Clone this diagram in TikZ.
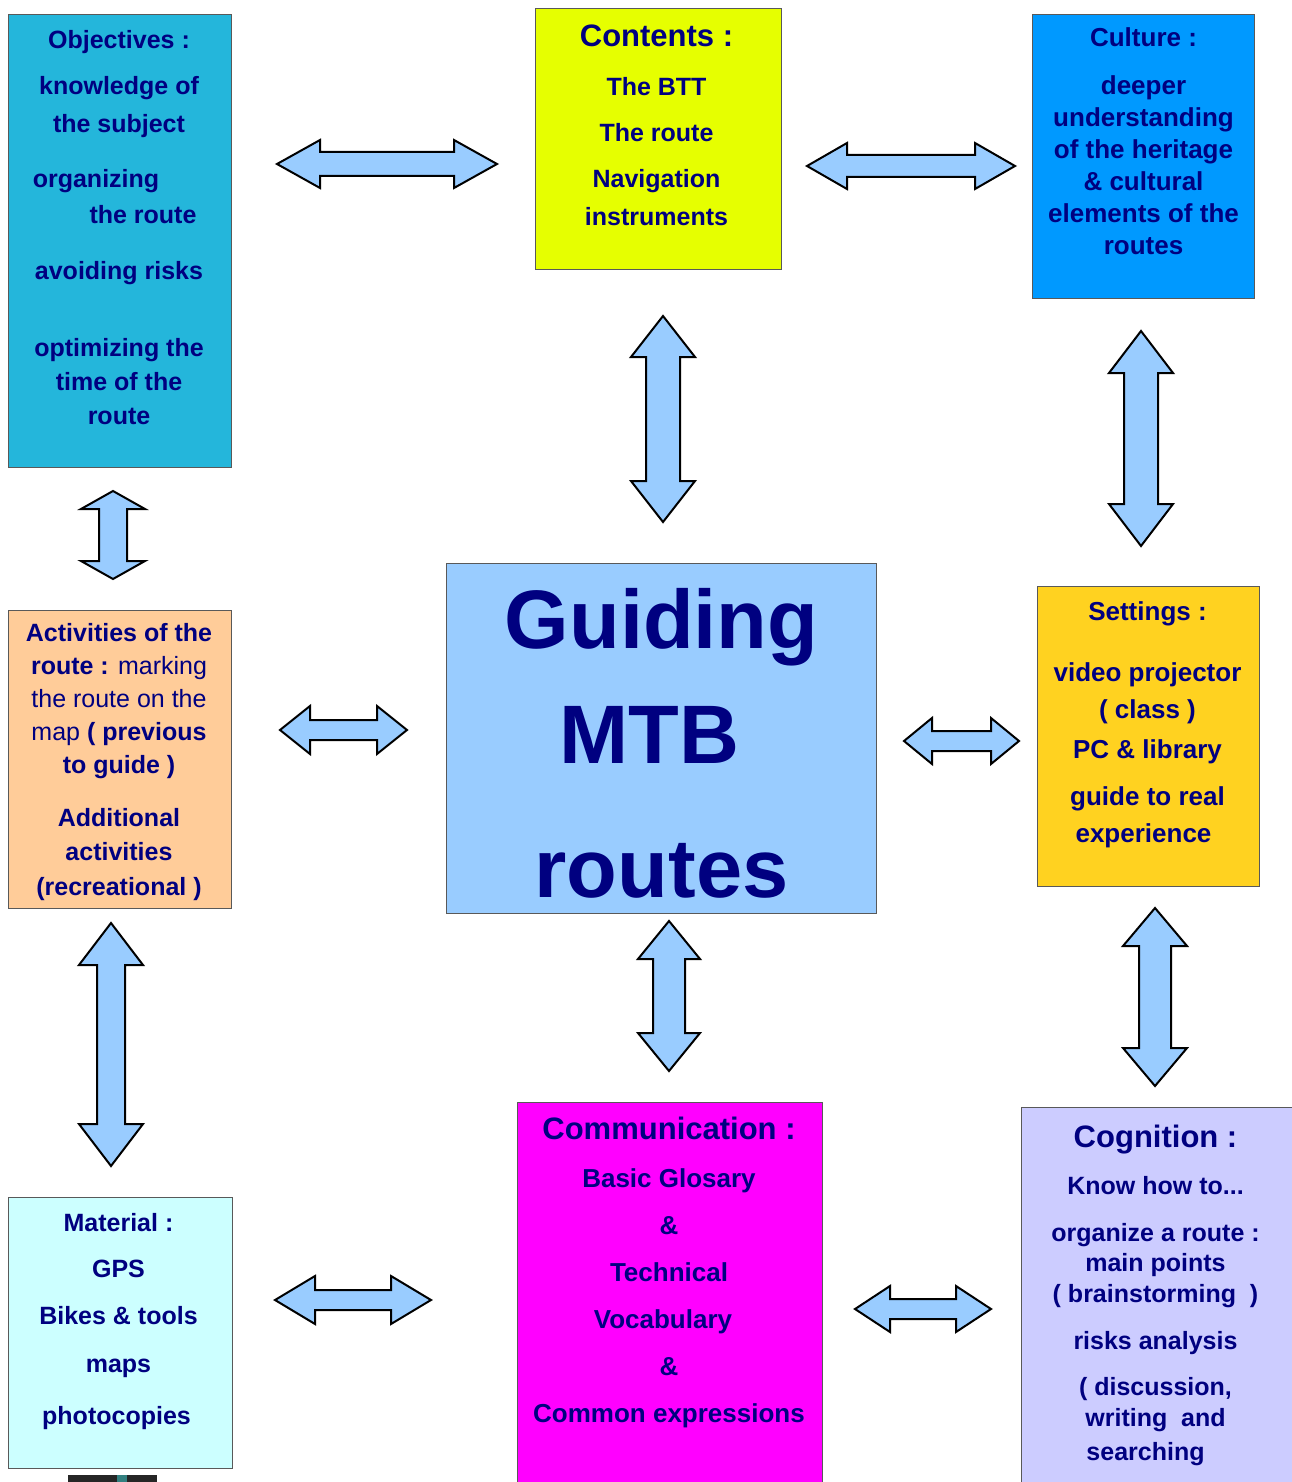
\documentclass[tikz,border=0pt]{standalone}
\usepackage{fontspec}
\setmainfont{Liberation Sans}
\usepackage{tikz}
\usetikzlibrary{calc,positioning}
\definecolor{navy}{RGB}{0,0,128}
\definecolor{objblue}{RGB}{36,182,219}
\definecolor{conyellow}{RGB}{230,255,0}
\definecolor{culblue}{RGB}{0,153,255}
\definecolor{actorange}{RGB}{255,204,153}
\definecolor{cenblue}{RGB}{153,204,255}
\definecolor{setyellow}{RGB}{255,210,32}
\definecolor{matcyan}{RGB}{204,255,255}
\definecolor{commagenta}{RGB}{255,0,255}
\definecolor{coglilac}{RGB}{204,204,255}
\definecolor{arrowblue}{RGB}{153,204,255}

\begin{document}
\begin{tikzpicture}[x=1pt,y=-1pt]
\tikzstyle{box}=[rectangle, draw=black!65, line width=1pt, anchor=north west, inner sep=0pt]
\tikzstyle{txt}=[anchor=base, align=center, inner sep=0pt, text=navy]
\tikzstyle{arw}=[draw=black, line width=2pt, fill=arrowblue, line join=miter]
\useasboundingbox (0,0) rectangle (1291,1482);

% boxes
\node[box, fill=objblue, minimum width=223pt, minimum height=453pt] (obj) at (8,14) {};
\node[box, fill=conyellow, minimum width=246pt, minimum height=261pt] (con) at (535,8) {};
\node[box, fill=culblue, minimum width=222pt, minimum height=284pt] (cul) at (1032,14) {};
\node[box, fill=actorange, minimum width=223pt, minimum height=298pt] (act) at (8,610) {};
\node[box, fill=cenblue, minimum width=430pt, minimum height=350pt] (cen) at (446,563) {};
\node[box, fill=setyellow, minimum width=222pt, minimum height=300pt] (set) at (1037,586) {};
\node[box, fill=matcyan, minimum width=224pt, minimum height=271pt] (mat) at (8,1197) {};
\node[box, fill=commagenta, minimum width=305pt, minimum height=400pt] (com) at (517,1102) {};
\node[box, fill=coglilac, minimum width=280pt, minimum height=400pt] (cog) at (1021,1107) {};
\fill[black!85] (68,1475) rectangle (157,1484);
\fill[teal!60!gray] (117,1475) rectangle (127,1484);

% texts (anchored at the baseline of their last line)
\node[txt, font={\bfseries\fontsize{25}{34}\selectfont}] (objtxt) at ($(obj.north)+(-1,410)$)
  {Objectives :\\[12pt] knowledge of\\[4pt] the subject\\[21pt]
   organizing\rule{46pt}{0pt}\\[2pt] \rule{48pt}{0pt}the route\\[22pt] avoiding risks\\[43pt]
   optimizing the\\ time of the\\ route};
\node[txt, font={\bfseries\fontsize{25}{38}\selectfont}] (contxt) at ($(con.north)+(-2,217)$)
  {{\fontsize{31}{38}\selectfont Contents :}\\[10pt] The BTT\\[8pt] The route\\[8pt]
   Navigation\\ instruments};
\node[txt, font={\bfseries\fontsize{26}{32}\selectfont}] (cultxt) at ($(cul.north)+(0,240)$)
  {Culture :\\[15pt] deeper\\ understanding\\ of the heritage\\ \& cultural\\
   elements of the\\ routes};
\node[txt, font={\bfseries\fontsize{25}{33}\selectfont}] (acttxt) at ($(act.north)+(-1,285)$)
  {Activities of the\\ route : {\mdseries marking}\\ {\mdseries the route on the}\\
   {\mdseries map} ( previous\\ to guide )\\[20pt] Additional\\[1pt] activities\\[2pt]
   (recreational )};
\node[txt, font={\bfseries\fontsize{83}{115}\selectfont}] (centxt) at ($(cen.north)+(0,334)$)
  {Guiding\\ MTB\rule{24pt}{0pt}\\[19pt] routes};
\node[txt, font={\bfseries\fontsize{26}{37}\selectfont}] (settxt) at ($(set.north)+(-1,256)$)
  {Settings :\\[24pt] video projector\\ ( class )\\[3pt] PC \& library\\[10pt]
   guide to real\\ experience\rule{8pt}{0pt}};
\node[txt, font={\bfseries\fontsize{25}{46}\selectfont}] (mattxt) at ($(mat.north)+(-2,227)$)
  {Material :\\ GPS\\[1pt] Bikes \& tools\\[2pt] maps\\[6pt] photocopies\rule{4pt}{0pt}};
\node[txt, font={\bfseries\fontsize{26}{47}\selectfont}] (comtxt) at ($(com.north)+(-1,320)$)
  {{\fontsize{31}{47}\selectfont Communication :}\\[1pt] Basic Glosary\\ \&\\ Technical\\
   Vocabulary\rule{12pt}{0pt}\\ \&\\ Common expressions};
\node[txt, font={\bfseries\fontsize{25}{30}\selectfont}] (cogtxt) at ($(cog.north)+(-6,353)$)
  {{\fontsize{31}{30}\selectfont Cognition :}\\[17pt] Know how to...\\[17pt]
   organize a route :\\ main points\\[1pt] ( brainstorming\ \ )\\[17pt] risks analysis\\[16pt]
   ( discussion,\\[1pt] writing\ \ and\\[4pt] searching\rule{20pt}{0pt}};

% arrows
\coordinate (objcon1) at (277,164);  \coordinate (objcon2) at (497,164);
\coordinate (concul1) at (807,166);  \coordinate (concul2) at (1015,166);
\coordinate (concen1) at (663,316);  \coordinate (concen2) at (663,522);
\coordinate (culset1) at (1141,331); \coordinate (culset2) at (1141,546);
\coordinate (objact1) at (113,491);  \coordinate (objact2) at (113,579);
\coordinate (actcen1) at (280,730);  \coordinate (actcen2) at (407,730);
\coordinate (censet1) at (904,741);  \coordinate (censet2) at (1019,741);
\coordinate (actmat1) at (111,923);  \coordinate (actmat2) at (111,1166);
\coordinate (cencom1) at (669,921);  \coordinate (cencom2) at (669,1071);
\coordinate (setcog1) at (1155,908); \coordinate (setcog2) at (1155,1086);
\coordinate (matcom1) at (275,1300); \coordinate (matcom2) at (431,1300);
\coordinate (comcog1) at (855,1309); \coordinate (comcog2) at (991,1309);
\foreach \a/\sh/\hw/\hl in {objcon/12/24/43, concul/11/23/40, concen/17/32/41, culset/17/32/42,
  objact/14/32/18, actcen/10/24/30, censet/10/23/28, actmat/14/32/42, cencom/16/31/38,
  setcog/16/32/38, matcom/10/24/40, comcog/10/23/35}{
  \coordinate (u) at ($(\a1)!\hl pt!(\a2)$);
  \coordinate (v) at ($(\a2)!\hl pt!(\a1)$);
  \draw[arw] (\a1) -- ($(u)!\hw pt!90:(\a2)$) -- ($(u)!\sh pt!90:(\a2)$)
    -- ($(v)!\sh pt!-90:(\a1)$) -- ($(v)!\hw pt!-90:(\a1)$) -- (\a2)
    -- ($(v)!\hw pt!90:(\a1)$) -- ($(v)!\sh pt!90:(\a1)$)
    -- ($(u)!\sh pt!-90:(\a2)$) -- ($(u)!\hw pt!-90:(\a2)$) -- cycle;
}
\end{tikzpicture}
\end{document}
